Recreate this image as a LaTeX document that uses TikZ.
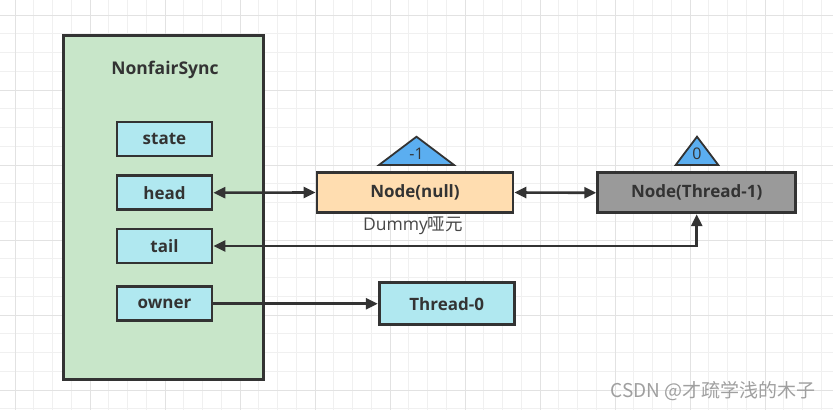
\documentclass[tikz,border=0pt]{standalone}
\usepackage{fontspec}
\setmainfont{Open Sans}
\newfontfamily\cjk{Noto Sans CJK SC}
\usetikzlibrary{arrows.meta}
\definecolor{gridminor}{HTML}{F0F0F0}
\definecolor{gridmajor}{HTML}{E2E2E2}
\definecolor{linec}{HTML}{333333}
\definecolor{greenfill}{HTML}{C8E6C9}
\definecolor{cyanfill}{HTML}{B0E8F0}
\definecolor{peach}{HTML}{FFDDB0}
\definecolor{grayfill}{HTML}{9A9A9A}
\definecolor{bluetri}{HTML}{5BAEF0}
\tikzset{
  box/.style={draw=linec, line width=2.8pt, minimum height=34pt, font=\bfseries\fontsize{17}{19}\selectfont, text=linec, inner sep=0pt},
  field/.style={box, fill=cyanfill, minimum width=95pt},
  conn/.style={draw=linec, line width=2.6pt},
  tip/.style={-{Triangle[length=12pt,width=11pt]}},
  tips/.style={{Triangle[length=12pt,width=11pt]}-{Triangle[length=12pt,width=11pt]}},
  tri/.style={draw=linec, fill=bluetri, line width=1.8pt}
}
\begin{document}
\begin{tikzpicture}[x=1pt,y=-1pt]
\useasboundingbox (0,0) rectangle (833,410);
\fill[white] (0,0) rectangle (833,410);
% grid
\foreach \i in {0,...,44} {
  \draw[gridminor, line width=1pt] ({15+18.75*\i},0) -- ({15+18.75*\i},410);
}
\foreach \j in {0,...,21} {
  \draw[gridminor, line width=1pt] (0,{15+18.75*\j}) -- (833,{15+18.75*\j});
}
\foreach \i in {0,...,11} {
  \draw[gridmajor, line width=1pt] ({15+75*\i},0) -- ({15+75*\i},410);
}
\foreach \j in {0,...,5} {
  \draw[gridmajor, line width=1pt] (0,{15+75*\j}) -- (833,{15+75*\j});
}
% container
\node[draw=linec, fill=greenfill, line width=3pt, minimum width=200pt, minimum height=344pt, inner sep=0pt] (sync) at (163,207) {};
\node[font=\bfseries\fontsize{17.5}{19}\selectfont, text=linec] (title) at (165,70) {NonfairSync};
% fields
\node[field] (state) at (164.5,139) {state};
\node[field] (head) at (164.5,192.7) {head};
\node[field] (tail) at (164.5,246) {tail};
\node[field] (owner) at (164.5,303.7) {owner};
% nodes
\node[box, fill=peach, minimum width=196pt, minimum height=40pt] (nnull) at (415,192.5) {Node(null)};
\node[box, fill=grayfill, minimum width=198pt, minimum height=40pt] (nthr) at (696.7,192.8) {Node(Thread-1)};
\node[box, fill=cyanfill, minimum width=135pt, minimum height=42pt] (t0) at (446.7,303.7) {Thread-0};
% triangles
\draw[tri] (379,165) -- (416.5,136.7) -- (454,165) -- cycle;
\node[font=\fontsize{16}{18}\selectfont, text=linec] (m1) at (416.5,154) {-1};
\draw[tri] (675.7,165) -- (697,136.7) -- (718.3,165) -- cycle;
\node[font=\fontsize{16}{18}\selectfont, text=linec] (z0) at (697,154) {0};
% label
\node[font=\fontsize{17.5}{19}\selectfont, text=linec!90] (dummy) at (413,226) {Dummy{\cjk 哑元}};
% connectors
\draw[conn, tips] (head.east) -- (nnull.west);
\draw[conn, tips] (nnull.east) -- (nthr.west);
\coordinate (corner) at (nthr.south |- tail.east);
\draw[conn, tips] (tail.east) -- (corner) -- (nthr.south);
\draw[conn, tip] (owner.east) -- (t0.west);
% watermark
\node[font=\cjk\fontsize{19}{21}\selectfont, text=gray!75, anchor=east] (wm) at (819,390.7) {CSDN @才疏学浅的木子};
\end{tikzpicture}
\end{document}
